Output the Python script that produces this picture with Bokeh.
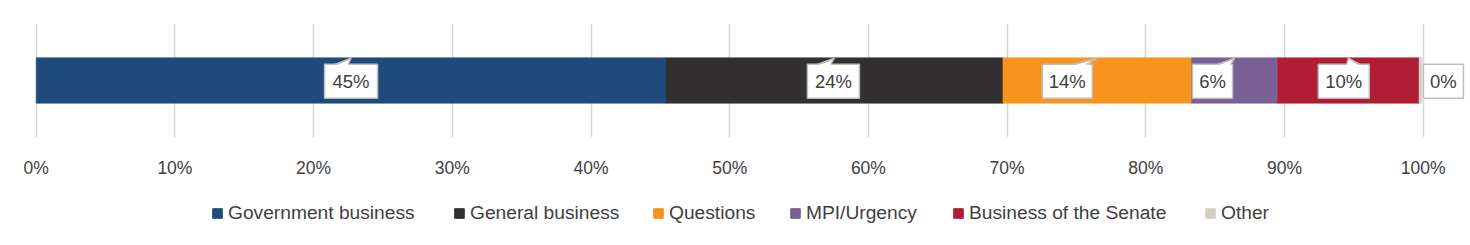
from bokeh.plotting import figure
from bokeh.layouts import column
from bokeh.models import Range1d, FixedTicker, PrintfTickFormatter, Legend, LegendItem
from bokeh.core.properties import value
from bokeh.embed import file_html
from bokeh.resources import INLINE

# ---- data ----
categories = ["Government business", "General business", "Questions",
              "MPI/Urgency", "Business of the Senate", "Other"]
shares = [45.4, 24.3, 13.6, 6.2, 10.2, 0.2]
colors = ["#1f4a7c", "#323031", "#f7941d", "#7b6096", "#af1e35", "#d4d1c0"]
tick_values = list(range(0, 101, 10))

# ---- styling / layout constants ----
W = 1470
H1, H2 = 180, 65
PX = 13.87          # pixels per percentage point
X0 = 35.7           # pixel position of 0%
FONT = "Liberation Sans"
TXT = "#404040"

# ================= main chart =================
p = figure(width=W, height=H1, output_backend="svg", toolbar_location=None,
           x_range=Range1d(-X0 / PX, (W - X0) / PX), y_range=Range1d(138, 23),
           y_axis_location=None, x_axis_location="below",
           min_border_left=0, min_border_right=0, min_border_top=23,
           min_border_bottom=42)
p.outline_line_color = None
p.background_fill_color = "white"
p.border_fill_color = "white"
p.ygrid.visible = False
p.xgrid.ticker = FixedTicker(ticks=tick_values)
p.xgrid.grid_line_color = "#d6d6d6"
p.xgrid.grid_line_width = 1.5

ax = p.xaxis[0]
ax.ticker = FixedTicker(ticks=tick_values)
ax.formatter = PrintfTickFormatter(format="%d%%")
ax.axis_line_color = None
ax.major_tick_line_color = None
ax.minor_tick_line_color = None
ax.major_tick_out = 0
ax.major_tick_in = 0
ax.major_label_standoff = 20
ax.major_label_text_font = FONT
ax.major_label_text_font_size = "17.5px"
ax.major_label_text_color = TXT

# ---- stacked bar ----
lefts, rights = [], []
acc = 0.0
for s in shares:
    lefts.append(acc)
    acc += s
    rights.append(acc)

for l, r, c in zip(lefts, rights, colors):
    p.hbar(y=80.5, left=l, right=r, height=46, fill_color=c, line_color=c, line_width=0.5)

# ---- callout labels ----
mids = [(l + r) / 2 for l, r in zip(lefts, rights)]
labels = [f"{round(s)}%" for s in shares]
box_dx = [0, -1, -30, -22, -4.5, 23]      # px offset of box from segment middle
box_w = [53, 52, 50, 40, 51, 40]          # px
ptr_start = [-16, -16, 6, 5, 3, None]     # px, pointer base start relative to box centre

bx = [m + d / PX for m, d in zip(mids, box_dx)]
p.rect(x=bx, y=81.3, width=box_w, height=34, width_units="screen",
       height_units="screen", fill_color="white", line_color="#bfbfbf", line_width=1.5)

pxs, pys, lxs, lys = [], [], [], []
for m, b, ps in zip(mids, bx, ptr_start):
    if ps is None:
        continue
    x1 = b + ps / PX
    x2 = b + (ps + 13) / PX
    pxs.append([x1, m, x2])
    pys.append([65.6, 58, 65.6])
    lxs.append([x1, m, x2])
    lys.append([64.3, 58, 64.3])
p.patches(xs=pxs, ys=pys, fill_color="white", line_color=None)
p.multi_line(xs=lxs, ys=lys, line_color="#bfbfbf", line_width=1.5)

p.text(x=bx, y=81.5, text=labels, text_align="center", text_baseline="middle",
       text_font=value(FONT), text_font_size="18.5px", text_color=TXT)

# ================= legend strip =================
p2 = figure(width=W, height=H2, output_backend="svg", toolbar_location=None,
            x_range=Range1d(0, W), y_range=Range1d(0, H2),
            x_axis_location=None, y_axis_location=None,
            min_border=0, min_border_left=0, min_border_right=0,
            min_border_top=0, min_border_bottom=0)
p2.outline_line_color = None
p2.grid.visible = False
p2.background_fill_color = "white"
p2.border_fill_color = "white"

legend_x = [211, 453, 652, 789, 952, 1204]   # px, left edge of each swatch
for cat, c, lx in zip(categories, colors, legend_x):
    # legend swatch renderer (kept outside the visible range of this strip)
    rr = p2.hbar(y=-100, left=0, right=1, height=1, fill_color=c, line_color=c)
    lg = Legend(items=[LegendItem(label=cat, renderers=[rr])],
                orientation="horizontal", location=(lx, 20),
                glyph_width=12, glyph_height=12, label_standoff=5, spacing=0,
                label_height=24, padding=0, margin=0, border_line_color=None,
                background_fill_alpha=0, label_text_font=FONT,
                label_text_font_size="19.2px", label_text_color=TXT)
    p2.add_layout(lg, "center")

layout = column(p, p2, spacing=0)
open("out.html", "w").write(file_html(layout, INLINE))
